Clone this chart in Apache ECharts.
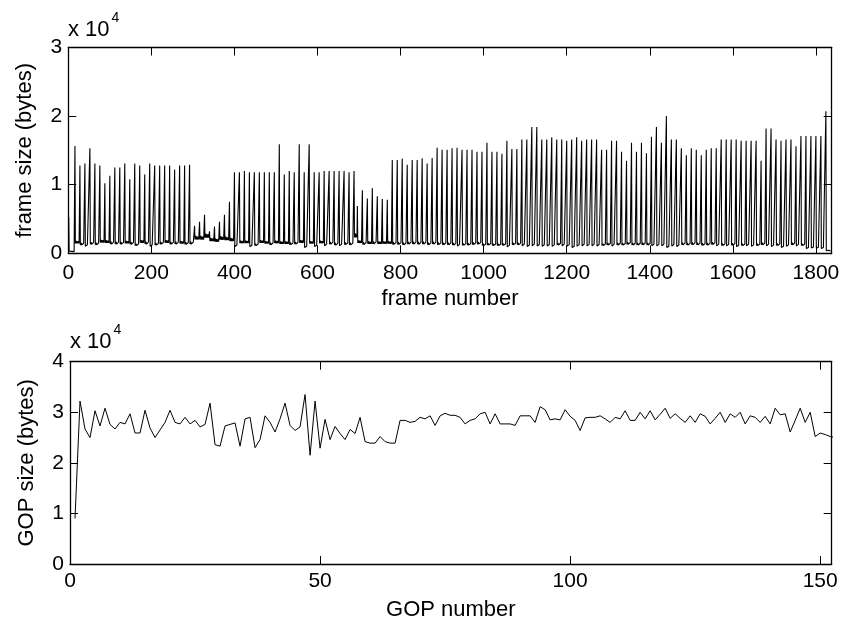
<!DOCTYPE html>
<html>
<head>
<meta charset="utf-8">
<script src="https://cdn.jsdelivr.net/npm/echarts@6/dist/echarts.min.js"></script>
<style>
  html, body { margin: 0; padding: 0; background: #fff; }
  #chart { width: 843px; height: 622px; }
</style>
</head>
<body>
<div id="chart"></div>
<script>
// GOP sizes in bytes, GOP 1..153
const gopSizes = [
  9000, 32200, 26700, 25000, 30300, 27300, 30800, 27600, 26700, 28000, 27700,
  29700, 25900, 25900, 30400, 26900, 25000, 26500, 28000, 30400, 28000,
  27700, 29000, 27700, 28400, 27100, 27600, 31800, 23600, 23300, 27300,
  27600, 27900, 23300, 28700, 29000, 23000, 24600, 29300, 28000, 26100,
  28700, 31800, 27400, 26400, 27100, 33500, 21500, 32200, 22900, 28600,
  24600, 27200, 25800, 24600, 26600, 25800, 29000, 24200, 23900, 23900,
  25200, 24200, 23900, 23900, 28400, 28400, 28000, 28200, 29000, 28700,
  29300, 27400, 29300, 29800, 29400, 29400, 29000, 27700, 28400, 28700,
  29700, 30000, 27700, 29700, 27700, 27700, 27700, 27400, 29300, 29300,
  29300, 28000, 31100, 30500, 28500, 28700, 28500, 30500, 29200, 28400,
  26400, 28900, 29000, 29000, 29300, 28700, 28000, 29000, 28700, 30300,
  28400, 28400, 30000, 28700, 30300, 28500, 29600, 30800, 28800, 29700,
  28800, 28000, 29300, 28000, 29700, 29200, 27700, 28800, 30000, 28000,
  29700, 29000, 30000, 27700, 29300, 29000, 28000, 29200, 27700, 30800,
  29500, 29700, 26100, 28400, 30800, 28000, 30000, 25200, 25900, 25600,
  25200, 25000
];

// I-frame size (bytes) opening GOPs 2..153
const iFrameSizes = [
  15650, 12800, 13100, 15300, 13100, 12800, 10200, 11300, 12500, 12500,
  13100, 10800, 13100, 12800, 11500, 13100, 12800, 12800, 12800, 12800,
  12200, 12800, 12800, 12900, 4000, 4600, 5600, 3200, 3900, 4600,
  5600, 7500, 11800, 11800, 12000, 11800, 11800, 11800, 11800, 11800,
  11800, 15900, 11500, 12000, 11800, 15900, 11800, 15900, 11800, 11800,
  12000, 12000, 12000, 12000, 12000, 11800, 12000, 6900, 9200, 8000,
  9500, 8300, 7900, 7800, 13600, 13600, 13800, 12900, 13600, 13600,
  13850, 13100, 13900, 15400, 15100, 15100, 15300, 15400, 15100, 15100,
  15100, 14800, 14800, 16100, 14800, 14800, 14500, 16400, 15200, 15200,
  16600, 16600, 18400, 18400, 16600, 16600, 16900, 16600, 16600, 16400,
  16600, 16900, 16400, 16600, 16600, 16600, 15100, 15100, 16400, 16400,
  14800, 13500, 16100, 14800, 16100, 14600, 17000, 18400, 16100, 20000,
  16600, 16600, 15300, 14300, 15300, 15100, 14300, 15100, 15300, 15300,
  16600, 16600, 16600, 16600, 16400, 16400, 16400, 16400, 13500, 18200,
  18200, 16600, 16400, 16600, 16600, 15600, 17100, 17100, 17100, 17100,
  17100, 20700
];

// frames before the first I-frame (bytes)
const leadFrames = [5300, 300, 250, 280, 240, 260, 230, 280, 250, 240, 270, 230, 260, 240, 270];

// relative share of the B and P frames after each I-frame (B B P B B P B B P B B)
const bpShare = [0.95, 0.9, 1.2, 0.95, 0.9, 1.15, 0.95, 0.9, 1.15, 0.95, 0.9];

const gopLength = 12;
// GOP cut short by a scene change: [GOP index, frame count]
const shortGop = [57, 8];

// axis ranges and tick steps
const frameAxis = { min: 0, max: 1838, step: 200 };
const frameSizeAxis = { min: 0, max: 30000, step: 10000 };
const gopAxis = { min: 0, max: 152.3, step: 50 };
const gopSizeAxis = { min: 0, max: 40000, step: 10000 };

// frame-by-frame sizes assembled from the GOP totals
const frameSeries = [];
let frameNo = 1;
leadFrames.forEach(v => frameSeries.push([frameNo++, v]));
iFrameSizes.forEach((iSize, j) => {
  const g = j + 1;
  const len = g === shortGop[0] ? shortGop[1] : gopLength;
  const share = bpShare.slice(0, len - 1);
  const total = share.reduce((a, b) => a + b, 0);
  const rest = gopSizes[g] - iSize;
  frameSeries.push([frameNo++, iSize]);
  share.forEach(w => frameSeries.push([frameNo++, rest * w / total]));
});
const gopSeries = gopSizes.map((v, i) => [i + 1, v]);

const FONT = '"Liberation Sans", Arial, Helvetica, sans-serif';
const black = '#000';

function xAxes(gridIndex, range, position, showLabels, name, labelMargin) {
  return {
    type: 'value', gridIndex, position,
    min: range.min, max: range.max, interval: range.step,
    name: showLabels ? name : '',
    nameLocation: 'middle', nameGap: 35,
    nameTextStyle: { color: black, fontFamily: FONT, fontSize: 22 },
    axisLine: { show: true, onZero: false, lineStyle: { color: black, width: 1.3 } },
    axisTick: { show: true, inside: true, length: 8, lineStyle: { color: black, width: 1 } },
    axisLabel: {
      show: showLabels, margin: labelMargin, color: black, fontFamily: FONT, fontSize: 21,
      formatter: v => (v % range.step === 0 ? String(v) : '')
    },
    splitLine: { show: false }
  };
}
function yAxes(gridIndex, range, position, showLabels, name) {
  return {
    type: 'value', gridIndex, position,
    min: range.min, max: range.max, interval: range.step,
    name: showLabels ? name : '',
    nameLocation: 'middle', nameGap: 32,
    nameTextStyle: { color: black, fontFamily: FONT, fontSize: 22 },
    axisLine: { show: true, onZero: false, lineStyle: { color: black, width: 1.3 } },
    axisTick: { show: true, inside: true, length: 8, lineStyle: { color: black, width: 1 } },
    axisLabel: {
      show: showLabels, margin: 6, color: black, fontFamily: FONT, fontSize: 21,
      formatter: v => String(v / 10000)
    },
    splitLine: { show: false }
  };
}

function exponentLabel(left, top) {
  return {
    type: 'text', left, top,
    style: {
      text: '{b|x 10}{s|4}',
      fill: black,
      rich: {
        b: { fontFamily: FONT, fontSize: 22, fill: black, verticalAlign: 'bottom', padding: [8, 0, 0, 0] },
        s: { fontFamily: FONT, fontSize: 14, fill: black, verticalAlign: 'top', padding: [0, 0, 0, 2] }
      }
    }
  };
}

const chart = echarts.init(document.getElementById('chart'), null, { renderer: 'canvas' });
chart.setOption({
  animation: false,
  backgroundColor: '#fff',
  grid: [
    { left: 68.3, top: 47.5, width: 763.4, height: 205.8, containLabel: false },
    { left: 70, top: 361.7, width: 761.7, height: 204, containLabel: false }
  ],
  xAxis: [
    xAxes(0, frameAxis, 'bottom', true, 'frame number', 9),
    xAxes(0, frameAxis, 'top', false, '', 9),
    xAxes(1, gopAxis, 'bottom', true, 'GOP number', 7),
    xAxes(1, gopAxis, 'top', false, '', 7)
  ],
  yAxis: [
    yAxes(0, frameSizeAxis, 'left', true, 'frame size (bytes)'),
    yAxes(0, frameSizeAxis, 'right', false, ''),
    yAxes(1, gopSizeAxis, 'left', true, 'GOP size (bytes)'),
    yAxes(1, gopSizeAxis, 'right', false, '')
  ],
  series: [
    {
      type: 'line', xAxisIndex: 0, yAxisIndex: 0, data: frameSeries,
      showSymbol: false, symbol: 'none', sampling: null,
      lineStyle: { color: black, width: 1.1 }, clip: true
    },
    {
      type: 'line', xAxisIndex: 2, yAxisIndex: 2, data: gopSeries,
      showSymbol: false, symbol: 'none',
      lineStyle: { color: black, width: 1 }, clip: true
    }
  ],
  graphic: [
    exponentLabel(68, 11),
    exponentLabel(70, 323)
  ]
});
</script>
</body>
</html>
